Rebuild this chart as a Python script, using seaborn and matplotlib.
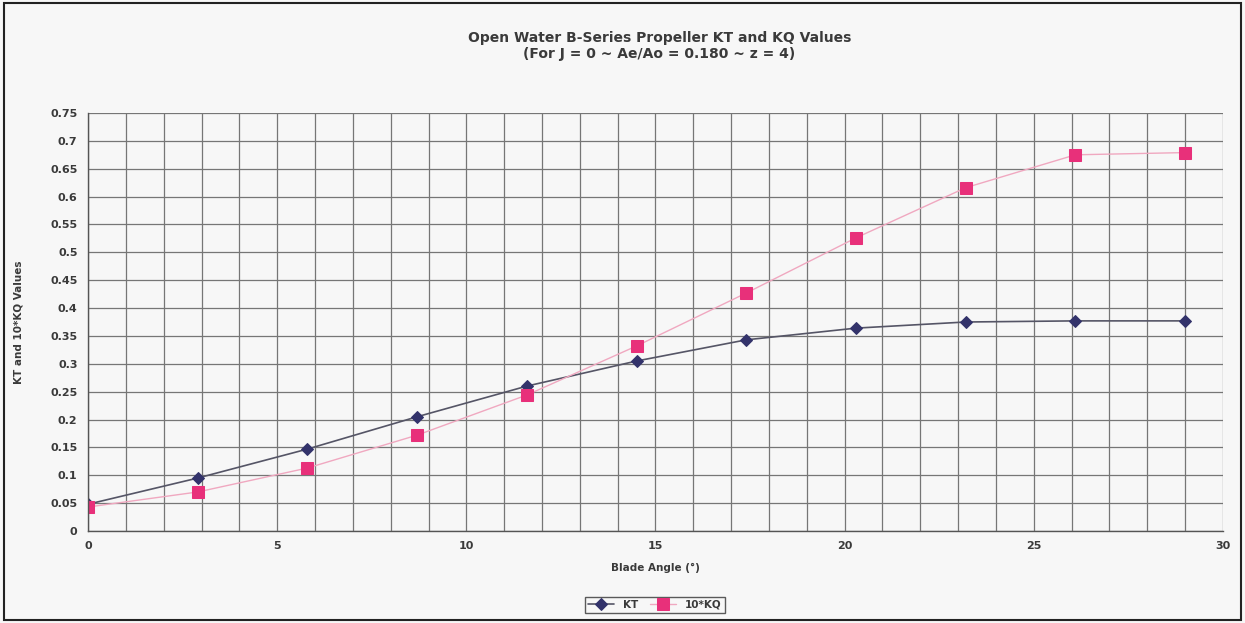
import seaborn as sns
import numpy as np
import pandas as pd
import matplotlib.pyplot as plt
from matplotlib.ticker import MultipleLocator, FuncFormatter

blade_angle = [0.0, 2.9, 5.8, 8.7, 11.6, 14.5, 17.4, 20.3, 23.2, 26.1, 29.0]
kt = [0.048, 0.095, 0.147, 0.205, 0.260, 0.305, 0.343, 0.364, 0.375, 0.377, 0.377]
kq10 = [0.043, 0.070, 0.113, 0.172, 0.244, 0.332, 0.427, 0.526, 0.616, 0.675, 0.679]

sns.set_style("white")
plt.rcParams['font.family'] = ['DejaVu Sans']

fig = plt.figure(figsize=(12.45, 6.23), dpi=100)
fig.patch.set_facecolor("#f7f7f7")
ax = fig.add_axes([0.0707, 0.1477, 0.9116, 0.6709])
ax.set_facecolor("#f7f7f7")

# grid: minor verticals every degree, horizontals every 0.05
ax.xaxis.set_major_locator(MultipleLocator(5))
ax.xaxis.set_minor_locator(MultipleLocator(1))
ax.yaxis.set_major_locator(MultipleLocator(0.05))
ax.grid(True, which="both", axis="x", color="#767676", lw=0.9)
ax.grid(True, which="major", axis="y", color="#767676", lw=0.9)
ax.set_axisbelow(True)

sns.lineplot(x=blade_angle, y=kt, ax=ax, color="#555566", lw=1.2,
             marker="D", markersize=6, markerfacecolor="#33336b",
             markeredgecolor="#33336b", label="KT")
sns.lineplot(x=blade_angle, y=kq10, ax=ax, color="#f0a8c0", lw=1.0,
             marker="s", markersize=8, markerfacecolor="#e8307a",
             markeredgecolor="#e8307a", label="10*KQ")

ax.set_xlim(0, 30)
ax.set_ylim(0, 0.75)

def fmt(v, pos):
    return f"{v:.2f}".rstrip("0").rstrip(".")

ax.yaxis.set_major_formatter(FuncFormatter(fmt))
ax.tick_params(axis="both", which="major", direction="out", length=4,
               color="#555555", labelsize=8, labelcolor="#3a3a3a")
ax.tick_params(axis="x", which="minor", length=0)
for lab in ax.get_xticklabels() + ax.get_yticklabels():
    lab.set_fontweight("bold")

for side in ["top", "right"]:
    ax.spines[side].set_visible(False)
for side in ["left", "bottom"]:
    ax.spines[side].set_color("#555555")
    ax.spines[side].set_linewidth(1.0)

ax.set_xlabel("Blade Angle (°)", fontsize=7.5, fontweight="bold", color="#3a3a3a", labelpad=8)
ax.set_ylabel("KT and 10*KQ Values", fontsize=7.5, fontweight="bold", color="#3a3a3a", labelpad=19)

fig.text(0.5295, 0.939, "Open Water B-Series Propeller KT and KQ Values",
         ha="center", va="center", fontsize=10, fontweight="bold", color="#3a3a3a")
fig.text(0.5295, 0.913, "(For J = 0 ~ Ae/Ao = 0.180 ~ z = 4)",
         ha="center", va="center", fontsize=10, fontweight="bold", color="#3a3a3a")

leg = ax.legend(loc="center", bbox_to_anchor=(0.526, 0.029), bbox_transform=fig.transFigure,
                ncol=2, frameon=True, fancybox=False, fontsize=7.5, handlelength=2.5,
                columnspacing=1.2, borderpad=0.3)
leg.get_frame().set_edgecolor("#333333")
leg.get_frame().set_facecolor("#f7f7f7")
for t in leg.get_texts():
    t.set_fontweight("bold")
    t.set_color("#3a3a3a")

# outer chart border
fig.add_artist(plt.Rectangle((0.003, 0.005), 0.994, 0.99, transform=fig.transFigure,
                             fill=False, edgecolor="#222222", lw=1.5))

fig.savefig("out.png", dpi=100, facecolor=fig.get_facecolor())
